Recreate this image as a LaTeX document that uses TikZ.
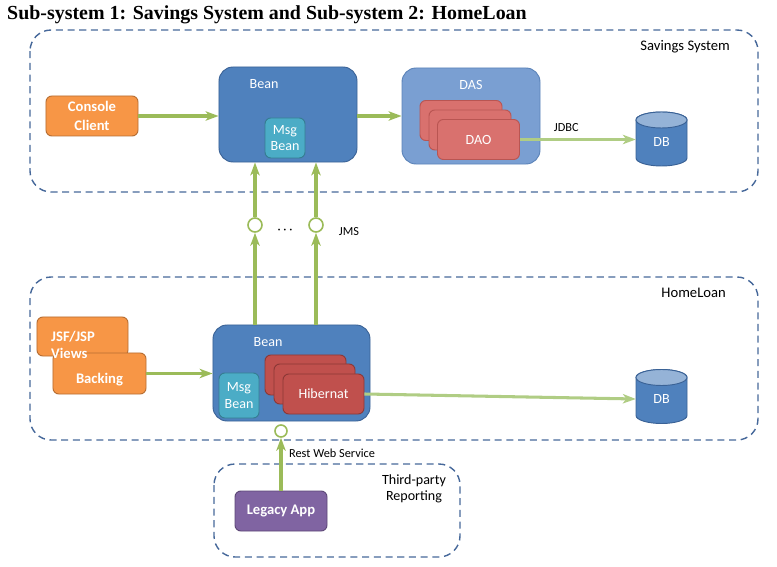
\documentclass[tikz,border=0pt]{standalone}
\usepackage{fontspec}
\setmainfont{Carlito}
\newfontfamily\titlefont{Liberation Serif}
\usetikzlibrary{arrows.meta}
\definecolor{grpline}{HTML}{46689A}
\definecolor{beanblue}{HTML}{4F81BD}
\definecolor{beanedge}{HTML}{3A6296}
\definecolor{msgcyan}{HTML}{4BACC6}
\definecolor{msgedge}{HTML}{357D91}
\definecolor{clientorange}{HTML}{F79646}
\definecolor{clientedge}{HTML}{B66D31}
\definecolor{dasblue}{HTML}{7A9FD2}
\definecolor{dasedge}{HTML}{5B83B9}
\definecolor{daored}{HTML}{D9716E}
\definecolor{daoedge}{HTML}{B95552}
\definecolor{hibred}{HTML}{C0504D}
\definecolor{hibedge}{HTML}{8C3836}
\definecolor{legacypurple}{HTML}{8064A2}
\definecolor{legacyedge}{HTML}{5C4776}
\definecolor{flowgreen}{HTML}{9BBB59}
\definecolor{flowlight}{HTML}{B0CD84}
\definecolor{dbtop}{HTML}{95B3D7}
\tikzset{
  grp/.style={draw=grpline,line width=1.2pt,dash pattern=on 6pt off 4pt,rounded corners=18pt},
  box/.style={rounded corners=5pt,line width=0.8pt,text=white,align=center,inner sep=1pt},
  boldtext/.style={font=\fontsize{12.5}{15}\selectfont\bfseries},
  orangebox/.style={box,fill=clientorange,draw=clientedge,boldtext},
  beanbox/.style={box,fill=beanblue,draw=beanedge,rounded corners=12pt},
  msgbox/.style={box,fill=msgcyan,draw=msgedge},
  dasbox/.style={box,fill=dasblue,draw=dasedge,rounded corners=12pt},
  daobox/.style={box,fill=daored,draw=daoedge,minimum width=2.46cm,minimum height=1.2cm},
  hibbox/.style={box,fill=hibred,draw=hibedge,minimum width=2.43cm,minimum height=1.2cm},
  legacybox/.style={box,fill=legacypurple,draw=legacyedge,boldtext},
  dbshape/.style={fill=beanblue,draw=beanedge,line width=0.8pt},
  dbtext/.style={text=white,minimum width=1.53cm,minimum height=1.2cm,inner sep=0pt},
  whitelbl/.style={text=white},
  note/.style={font=\fontsize{10.5}{12}\selectfont},
  port/.style={circle,draw=flowgreen,fill=white,line width=1.4pt,minimum size=0.42cm,inner sep=0pt},
  flow/.style={draw=flowgreen,line width=2.6pt,-{Stealth[length=11pt,width=8pt,inset=3pt]}},
  lightflow/.style={flow,draw=flowlight}
}
\begin{document}
\begin{tikzpicture}[x=0.03cm,y=-0.03cm,font=\fontsize{12}{14}\selectfont]
\useasboundingbox (0,0) rectangle (777,567);
\node[anchor=west,inner sep=0pt,font=\titlefont\bfseries\fontsize{17}{20}\selectfont] (title) at (7,15) {Sub-system 1: Savings System and Sub-system 2: HomeLoan};

% groups
\draw[grp] (30,30) rectangle (758,192);
\draw[grp] (30,277) rectangle (758,440);
\draw[grp] (214,464) rectangle (460,557);
\node[anchor=east,font=\fontsize{12.5}{14}\selectfont] (savlbl) at (734,47) {Savings System};
\node[anchor=east,font=\fontsize{12.5}{14}\selectfont] (homelbl) at (730,293) {HomeLoan};
\node[align=center] (thirdlbl) at (414,489) {Third-party\\Reporting};

% databases
\foreach \cx/\cy in {661.5/139,661.5/396.5}{
  \draw[dbshape] (\cx-25.5,\cy-19) -- (\cx-25.5,\cy+19) arc[start angle=180,end angle=360,x radius=0.765cm,y radius=0.24cm]
    -- (\cx+25.5,\cy-19) arc[start angle=0,end angle=180,x radius=0.765cm,y radius=0.24cm] -- cycle;
  \draw[dbshape,fill=dbtop] (\cx,\cy-19) ellipse[x radius=0.765cm,y radius=0.24cm];
}
\node[dbtext] (db1) at (661.5,142) {DB};
\node[dbtext] (db2) at (661.5,399) {DB};

% savings system
\node[orangebox,minimum width=2.76cm,minimum height=1.2cm] (console) at (92,116) {Console\\[1pt]Client};
\node[beanbox,minimum width=4.14cm,minimum height=2.85cm] (bean1) at (288,114.5) {};
\node[whitelbl] (bean1lbl) at (264,84) {Bean};
\node[msgbox,minimum width=1.2cm,minimum height=1.2cm] (msg1) at (285,138) {Msg\\Bean};
\node[dasbox,minimum width=4.14cm,minimum height=2.88cm] (das) at (471,116) {};
\node[whitelbl] (daslbl) at (471,85) {DAS};
\foreach \i/\x/\y/\t in {1/461/120.5/{},2/470/130/{},3/478.5/139.5/DAO}
  \node[daobox] (dao\i) at (\x,\y) {\t};

\draw[flow] (console.east) -- (console.east -| bean1.west);
\draw[flow] (bean1.east |- das.west) -- (das.west);
\draw[lightflow] (dao3.east) -- (dao3.east -| db1.west) node[pos=0.4,above=2pt,note] (jdbclbl) {JDBC};

% homeloan
\node[orangebox,minimum width=2.73cm,minimum height=1.17cm] (views) at (82.5,336.5) {};
\node[orangebox,minimum width=2.79cm,minimum height=1.23cm] (backing) at (99.5,373.5) {\raisebox{-5pt}[\height][\depth]{Backing}};
\node[whitelbl,boldtext,align=left,anchor=west,inner sep=0pt] (viewslbl) at (51,345) {JSF/JSP\\Views};
\node[beanbox,minimum width=4.71cm,minimum height=2.88cm] (bean2) at (291.5,373) {};
\node[whitelbl] (bean2lbl) at (268,342) {Bean};
\node[msgbox,minimum width=1.2cm,minimum height=1.35cm] (msg2) at (239,395.5) {Msg\\Bean};
\foreach \i/\x/\y/\t in {1/305.5/375/{},2/314.5/384/{},3/323.5/394/Hibernat}
  \node[hibbox] (hib\i) at (\x,\y) {\t};

\draw[flow] (backing.east) -- (backing.east -| bean2.west);
\draw[lightflow] (hib3.east) -- (db2.west);

% JMS
\node[port] (jms1) at (255,225) {};
\node[port] (jms2) at (316,225) {};
\foreach \j in {jms1,jms2}{
  \draw[flow] (\j |- bean2.north) -- (\j.south);
  \draw[flow] (\j.north) -- (\j |- bean1.south);
}
\node[note] (dots) at (285,231) {·\ ·\ ·};
\node[note] (jmslbl) at (349,232) {JMS};

% third party
\node[legacybox,minimum width=2.76cm,minimum height=1.2cm] (legacy) at (281,511) {Legacy App};
\node[port,minimum size=0.36cm] (rest) at (281,431) {};
\draw[flow] (legacy.north) -- (rest.south);
\node[note,anchor=west] (restlbl) at (285,453) {Rest Web Service};
\end{tikzpicture}
\end{document}
